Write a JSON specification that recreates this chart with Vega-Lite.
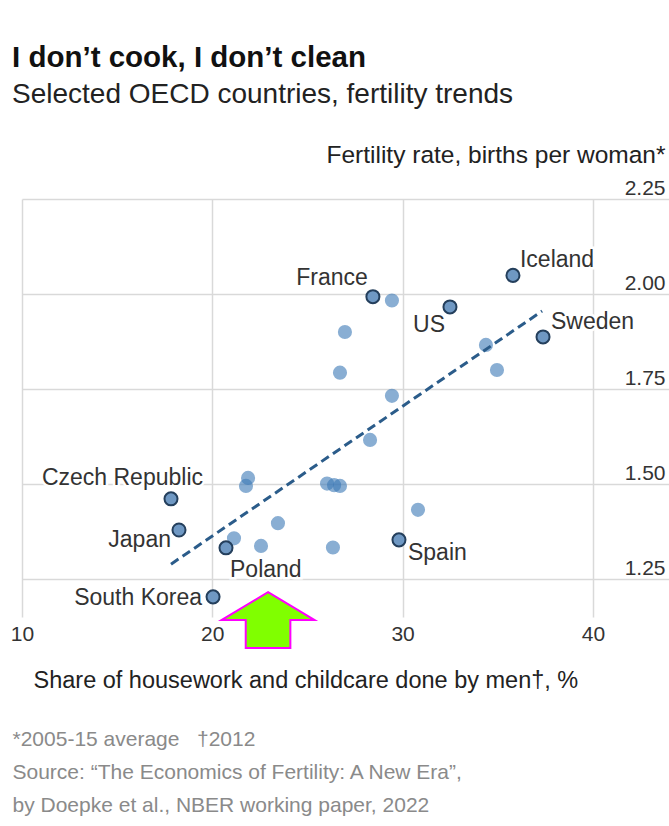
{
"$schema":"https://vega.github.io/schema/vega-lite/v6.json",
"autosize":{"type":"none"},
"width":647,"height":418,
"padding":{"left":22,"top":199,"right":0,"bottom":209},
"background":"#ffffff",
"config":{"font":"Liberation Sans","view":{"stroke":null}},
"title":{"text":"I don’t cook, I don’t clean","subtitle":"Selected OECD countries, fertility trends","anchor":"start","frame":"group","dx":-10,"fontSize":29.5,"fontWeight":"bold","color":"#111111","subtitleFontSize":28,"subtitleColor":"#222222","subtitlePadding":8,"offset":32},
"datasets":{
"points":[
{"country":"Czech Republic","share":17.83,"fertility":1.461},
{"country":"Japan","share":18.25,"fertility":1.379},
{"country":"Poland","share":20.72,"fertility":1.332},
{"country":"South Korea","share":20.04,"fertility":1.203},
{"country":"Spain","share":29.81,"fertility":1.353},
{"country":"France","share":28.44,"fertility":1.993},
{"country":"US","share":32.49,"fertility":1.966},
{"country":"Iceland","share":35.8,"fertility":2.049},
{"country":"Sweden","share":37.38,"fertility":1.887},
{"country":"","share":29.44,"fertility":1.983},
{"country":"","share":26.97,"fertility":1.9},
{"country":"","share":26.71,"fertility":1.793},
{"country":"","share":29.44,"fertility":1.732},
{"country":"","share":28.29,"fertility":1.616},
{"country":"","share":21.88,"fertility":1.516},
{"country":"","share":21.77,"fertility":1.495},
{"country":"","share":26.03,"fertility":1.501},
{"country":"","share":26.4,"fertility":1.497},
{"country":"","share":26.71,"fertility":1.495},
{"country":"","share":30.81,"fertility":1.432},
{"country":"","share":23.45,"fertility":1.397},
{"country":"","share":21.14,"fertility":1.357},
{"country":"","share":22.56,"fertility":1.337},
{"country":"","share":26.34,"fertility":1.333},
{"country":"","share":34.38,"fertility":1.866},
{"country":"","share":34.96,"fertility":1.8}
],
"trend":[{"share":17.83,"fertility":1.289},{"share":37.33,"fertility":1.955}],
"arrow":[{"share":22.93,"fertility":1.142}]
},
"resolve":{"axis":{"x":"independent"}},
"layer":[
{
"layer":[
{"data":{"name":"points"},"transform":[{"filter":"datum.country === ''"}],
"mark":{"type":"circle","size":200,"color":"#3a78b5","opacity":0.6},
"encoding":{
"x":{"field":"share","type":"quantitative","scale":{"domain":[10,44],"nice":false,"zero":false},
"axis":{"values":[10,20,30,40],"grid":true,"gridColor":"#d9d9d9","gridWidth":1.5,"domain":false,"ticks":false,"tickSize":0,"labelFlush":false,"labelFontSize":21,"labelColor":"#333333","labelPadding":6,
"title":"Share of housework and childcare done by men†, %","titleX":11,"titleY":63,"titleAlign":"left","titleBaseline":"middle","titleFontSize":23.5,"titleFontWeight":"normal","titleColor":"#222222"}},
"y":{"field":"fertility","type":"quantitative","scale":{"domain":[1.15,2.25],"nice":false,"zero":false},
"axis":{"orient":"right","values":[1.25,1.5,1.75,2,2.25],"format":".2f","grid":true,"gridColor":"#d9d9d9","gridWidth":1.5,"domain":false,"ticks":false,"tickSize":0,"labelAlign":"right","labelPadding":-4,"labelBaseline":"alphabetic","labelOffset":-5,"labelFontSize":21,"labelColor":"#333333",
"title":"Fertility rate, births per woman*","titleAngle":0,"titleX":-4,"titleY":-44,"titleAlign":"right","titleBaseline":"middle","titleFontSize":24.5,"titleFontWeight":"normal","titleColor":"#222222"}}
}},
{"data":{"name":"trend"},"mark":{"type":"line","color":"#2b5c8a","strokeWidth":3,"strokeDash":[9,5]},
"encoding":{"x":{"field":"share","type":"quantitative"},"y":{"field":"fertility","type":"quantitative"}}},
{"data":{"name":"points"},"transform":[{"filter":"datum.country !== ''"}],
"mark":{"type":"circle","size":170,"fill":"#6f98c3","stroke":"#243f5c","strokeWidth":2,"opacity":1},
"encoding":{"x":{"field":"share","type":"quantitative"},"y":{"field":"fertility","type":"quantitative"}}},
{"data":{"name":"points"},"transform":[{"filter":"datum.country === 'Czech Republic'"}],
"encoding":{"x":{"field":"share","type":"quantitative"},"y":{"field":"fertility","type":"quantitative"},"text":{"field":"country"}},
"layer":[
{"mark":{"type":"text","align":"right","baseline":"middle","dx":32,"dy":-21,"fontSize":23,"fill":"white","stroke":"white","strokeWidth":5}},
{"mark":{"type":"text","align":"right","baseline":"middle","dx":32,"dy":-21,"fontSize":23,"color":"#333333"}}]},
{"data":{"name":"points"},"transform":[{"filter":"datum.country === 'Japan'"}],
"encoding":{"x":{"field":"share","type":"quantitative"},"y":{"field":"fertility","type":"quantitative"},"text":{"field":"country"}},
"layer":[
{"mark":{"type":"text","align":"right","baseline":"middle","dx":-8,"dy":10,"fontSize":23,"fill":"white","stroke":"white","strokeWidth":5}},
{"mark":{"type":"text","align":"right","baseline":"middle","dx":-8,"dy":10,"fontSize":23,"color":"#333333"}}]},
{"data":{"name":"points"},"transform":[{"filter":"datum.country === 'Poland'"}],
"encoding":{"x":{"field":"share","type":"quantitative"},"y":{"field":"fertility","type":"quantitative"},"text":{"field":"country"}},
"layer":[
{"mark":{"type":"text","align":"left","baseline":"middle","dx":4,"dy":22,"fontSize":23,"fill":"white","stroke":"white","strokeWidth":5}},
{"mark":{"type":"text","align":"left","baseline":"middle","dx":4,"dy":22,"fontSize":23,"color":"#333333"}}]},
{"data":{"name":"points"},"transform":[{"filter":"datum.country === 'South Korea'"}],
"encoding":{"x":{"field":"share","type":"quantitative"},"y":{"field":"fertility","type":"quantitative"},"text":{"field":"country"}},
"layer":[
{"mark":{"type":"text","align":"right","baseline":"middle","dx":-11,"dy":1,"fontSize":23,"fill":"white","stroke":"white","strokeWidth":5}},
{"mark":{"type":"text","align":"right","baseline":"middle","dx":-11,"dy":1,"fontSize":23,"color":"#333333"}}]},
{"data":{"name":"points"},"transform":[{"filter":"datum.country === 'Spain'"}],
"encoding":{"x":{"field":"share","type":"quantitative"},"y":{"field":"fertility","type":"quantitative"},"text":{"field":"country"}},
"layer":[
{"mark":{"type":"text","align":"left","baseline":"middle","dx":9,"dy":13,"fontSize":23,"fill":"white","stroke":"white","strokeWidth":5}},
{"mark":{"type":"text","align":"left","baseline":"middle","dx":9,"dy":13,"fontSize":23,"color":"#333333"}}]},
{"data":{"name":"points"},"transform":[{"filter":"datum.country === 'France'"}],
"encoding":{"x":{"field":"share","type":"quantitative"},"y":{"field":"fertility","type":"quantitative"},"text":{"field":"country"}},
"layer":[
{"mark":{"type":"text","align":"right","baseline":"middle","dx":-5,"dy":-19,"fontSize":23,"fill":"white","stroke":"white","strokeWidth":5}},
{"mark":{"type":"text","align":"right","baseline":"middle","dx":-5,"dy":-19,"fontSize":23,"color":"#333333"}}]},
{"data":{"name":"points"},"transform":[{"filter":"datum.country === 'US'"}],
"encoding":{"x":{"field":"share","type":"quantitative"},"y":{"field":"fertility","type":"quantitative"},"text":{"field":"country"}},
"layer":[
{"mark":{"type":"text","align":"right","baseline":"middle","dx":-5,"dy":18,"fontSize":23,"fill":"white","stroke":"white","strokeWidth":5}},
{"mark":{"type":"text","align":"right","baseline":"middle","dx":-5,"dy":18,"fontSize":23,"color":"#333333"}}]},
{"data":{"name":"points"},"transform":[{"filter":"datum.country === 'Iceland'"}],
"encoding":{"x":{"field":"share","type":"quantitative"},"y":{"field":"fertility","type":"quantitative"},"text":{"field":"country"}},
"layer":[
{"mark":{"type":"text","align":"left","baseline":"middle","dx":7,"dy":-15,"fontSize":23,"fill":"white","stroke":"white","strokeWidth":5}},
{"mark":{"type":"text","align":"left","baseline":"middle","dx":7,"dy":-15,"fontSize":23,"color":"#333333"}}]},
{"data":{"name":"points"},"transform":[{"filter":"datum.country === 'Sweden'"}],
"encoding":{"x":{"field":"share","type":"quantitative"},"y":{"field":"fertility","type":"quantitative"},"text":{"field":"country"}},
"layer":[
{"mark":{"type":"text","align":"left","baseline":"middle","dx":8,"dy":-15,"fontSize":23,"fill":"white","stroke":"white","strokeWidth":5}},
{"mark":{"type":"text","align":"left","baseline":"middle","dx":8,"dy":-15,"fontSize":23,"color":"#333333"}}]}
]
},
{"data":{"name":"arrow"},
"mark":{"type":"point","shape":"M0,-0.6L1,0L0.48,0L0.48,0.6L-0.48,0.6L-0.48,0L-1,0Z","size":8649,"filled":true,"fill":"#80ff00","stroke":"#ff00ff","strokeWidth":2,"opacity":1,"clip":false},
"encoding":{
"x":{"field":"share","type":"quantitative","axis":{"orient":"bottom","domain":false,"ticks":false,"labels":false,"grid":false,
"title":["*2005-15 average \u00a0\u00a0†2012","Source: “The Economics of Fertility: A New Era”,","by Doepke et al., NBER working paper, 2022"],
"titleX":-10,"titleY":111,"titleAlign":"left","titleBaseline":"top","titleLineHeight":33,"titleFontSize":21,"titleFontWeight":"normal","titleColor":"#8a8a8a"}},
"y":{"field":"fertility","type":"quantitative"}}}
]
}
